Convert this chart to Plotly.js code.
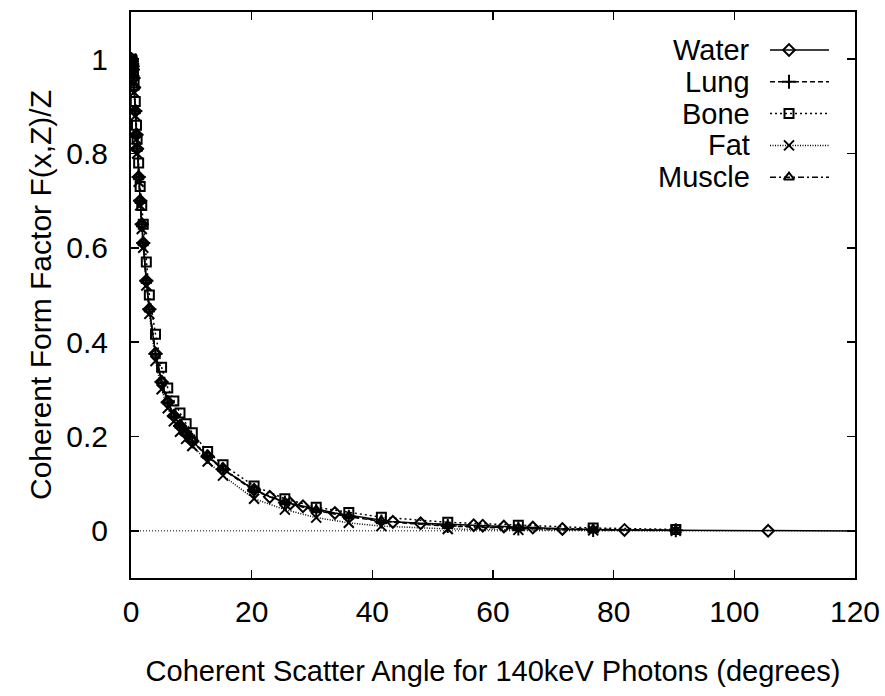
<!DOCTYPE html>
<html><head><meta charset="utf-8">
<script src="https://cdn.plot.ly/plotly-3.0.1.min.js"></script>
<style>html,body{margin:0;padding:0;background:#fff;}#chart{width:885px;height:696px;}</style>
</head><body><div id="chart"></div>
<script>
// Common angle grid (degrees) used by Lung, Bone, Fat, Muscle
const angles = [0, 0.05, 0.10, 0.15, 0.20, 0.25, 0.30, 0.41, 0.51, 0.71, 0.91, 1.01, 1.27, 1.52, 1.78, 2.03, 2.54, 3.04, 4.06, 5.07, 6.09, 7.10, 8.12, 9.14, 10.16, 12.7, 15.25, 20.4, 25.5, 30.7, 36.1, 41.5, 52.5, 64.2, 76.6, 90.3];
const lung   = [1.0, 1.0, 0.998, 0.995, 0.99, 0.985, 0.978, 0.96, 0.94, 0.89, 0.84, 0.81, 0.75, 0.70, 0.65, 0.61, 0.53, 0.47, 0.375, 0.315, 0.272, 0.243, 0.222, 0.205, 0.19, 0.157, 0.13, 0.085, 0.06, 0.043, 0.030, 0.020, 0.010, 0.005, 0.002, 0.001];
const bone   = [1.0, 1.0, 0.999, 0.997, 0.994, 0.99, 0.985, 0.97, 0.955, 0.91, 0.86, 0.83, 0.78, 0.73, 0.69, 0.65, 0.57, 0.50, 0.417, 0.347, 0.303, 0.275, 0.25, 0.227, 0.208, 0.168, 0.14, 0.095, 0.068, 0.05, 0.039, 0.029, 0.018, 0.012, 0.006, 0.003];
const fat    = [1.0, 1.0, 0.998, 0.994, 0.989, 0.983, 0.975, 0.955, 0.93, 0.88, 0.83, 0.80, 0.74, 0.69, 0.64, 0.60, 0.52, 0.46, 0.36, 0.30, 0.26, 0.232, 0.21, 0.195, 0.18, 0.147, 0.117, 0.068, 0.045, 0.028, 0.017, 0.010, 0.004, 0.002, 0.001, 0.0];
const muscle = [1.0, 1.0, 0.998, 0.995, 0.99, 0.985, 0.978, 0.96, 0.94, 0.89, 0.84, 0.81, 0.75, 0.70, 0.65, 0.61, 0.53, 0.47, 0.378, 0.318, 0.275, 0.245, 0.224, 0.207, 0.192, 0.159, 0.132, 0.087, 0.061, 0.044, 0.031, 0.021, 0.011, 0.006, 0.003, 0.001];
// Water has its own angle grid
const waterAngles = [0, 0.05, 0.10, 0.15, 0.20, 0.25, 0.30, 0.41, 0.51, 0.71, 0.91, 1.01, 1.27, 1.52, 1.78, 2.03, 2.54, 3.04, 4.06, 5.07, 6.09, 7.10, 8.12, 9.14, 10.16, 12.7, 15.25, 20.4, 23.0, 26.4, 28.5, 33.8, 43.4, 48.0, 56.8, 58.3, 61.8, 66.6, 71.5, 81.8, 105.6, 126];
const water  = [1.0, 1.0, 0.998, 0.995, 0.99, 0.985, 0.978, 0.96, 0.94, 0.89, 0.84, 0.81, 0.75, 0.70, 0.65, 0.61, 0.53, 0.47, 0.376, 0.316, 0.273, 0.244, 0.223, 0.206, 0.19, 0.158, 0.131, 0.087, 0.072, 0.058, 0.052, 0.038, 0.019, 0.016, 0.012, 0.011, 0.009, 0.007, 0.004, 0.002, 0.0, -0.001];

const names = ["Water", "Lung", "Bone", "Fat", "Muscle"];
const xs = [waterAngles, angles, angles, angles, angles];
const ys = [water, lung, bone, fat, muscle];
const symbols = ["diamond-open", "cross-thin", "square-open", "x-thin", "triangle-up-open"];
const dashes = ["solid", "5px,3px", "2px,3px", "1px,1.5px", "6px,3px,2px,3px"];
const msizes = [9, 10, 9, 10, 9];

const traces = [];
for (let i = 0; i < names.length; i++) {
  traces.push({
    x: xs[i], y: ys[i], name: names[i], type: "scatter", mode: "lines+markers",
    line: {color: "black", width: 1.5, dash: dashes[i]},
    marker: {symbol: symbols[i], size: msizes[i], color: "black", line: {color: "black", width: 2}},
    showlegend: false, cliponaxis: true
  });
}

// gnuplot-style key (text right, sample on the right), in plot-area paper units
const L = 131, R = 855, T = 12, B = 578;
const px = v => (v - L) / (R - L);
const py = v => (B - v) / (B - T);
const keyRows = [50, 81.8, 113.6, 145.4, 177.2];
const annotations = [], shapes = [];
const font = "Liberation Sans, Arial, sans-serif";
for (let i = 0; i < names.length; i++) {
  annotations.push({xref: "paper", yref: "paper", x: px(752), y: py(keyRows[i]), xanchor: "right", yanchor: "middle",
    text: names[i], showarrow: false, font: {family: font, size: 29, color: "black"}});
  shapes.push({type: "line", xref: "paper", yref: "paper", x0: px(770), x1: px(829), y0: py(keyRows[i]), y1: py(keyRows[i]),
    line: {color: "black", width: 1.5, dash: dashes[i]}});
  traces.push({x: [px(789)], y: [py(keyRows[i])], xaxis: "x2", yaxis: "y2", type: "scatter", mode: "markers",
    marker: {symbol: symbols[i], size: msizes[i], color: "black", line: {color: "black", width: 2}},
    showlegend: false, hoverinfo: "skip", cliponaxis: false});
}
// dotted zero axis
shapes.push({type: "line", xref: "paper", yref: "y", x0: 0, x1: 1, y0: 0, y1: 0, line: {color: "black", width: 1, dash: "1px,2px"}, layer: "below"});

const axisFont = {family: font, size: 30, color: "black"};
const layout = {
  width: 885, height: 696,
  margin: {l: L, r: 885 - R, t: T, b: 696 - B},
  paper_bgcolor: "white", plot_bgcolor: "white",
  showlegend: false,
  xaxis: {range: [0, 120], tickvals: [0, 20, 40, 60, 80, 100, 120], ticks: "inside", ticklen: 8, tickwidth: 1.5,
    tickcolor: "black", showline: true, linecolor: "black", linewidth: 2, mirror: "allticks", showgrid: false, zeroline: false,
    tickfont: axisFont, ticklabelstandoff: 6,
    title: {text: "Coherent Scatter Angle for 140keV Photons (degrees)", font: {family: font, size: 29, color: "black"}, standoff: 34}},
  yaxis: {range: [-0.1, 1.1], tickvals: [0, 0.2, 0.4, 0.6, 0.8, 1], ticktext: ["0", "0.2", "0.4", "0.6", "0.8", "1"],
    ticks: "inside", ticklen: 8, tickwidth: 1.5, tickcolor: "black", showline: true, linecolor: "black", linewidth: 2,
    mirror: "allticks", showgrid: false, zeroline: false, tickfont: axisFont, ticklabelstandoff: 15,
    title: {text: "Coherent Form Factor F(x,Z)/Z", font: axisFont, standoff: 6}},
  xaxis2: {overlaying: "x", range: [0, 1], visible: false, fixedrange: true},
  yaxis2: {overlaying: "y", range: [0, 1], visible: false, fixedrange: true},
  annotations: annotations, shapes: shapes
};
Plotly.newPlot("chart", traces, layout, {staticPlot: true});
</script></body></html>
